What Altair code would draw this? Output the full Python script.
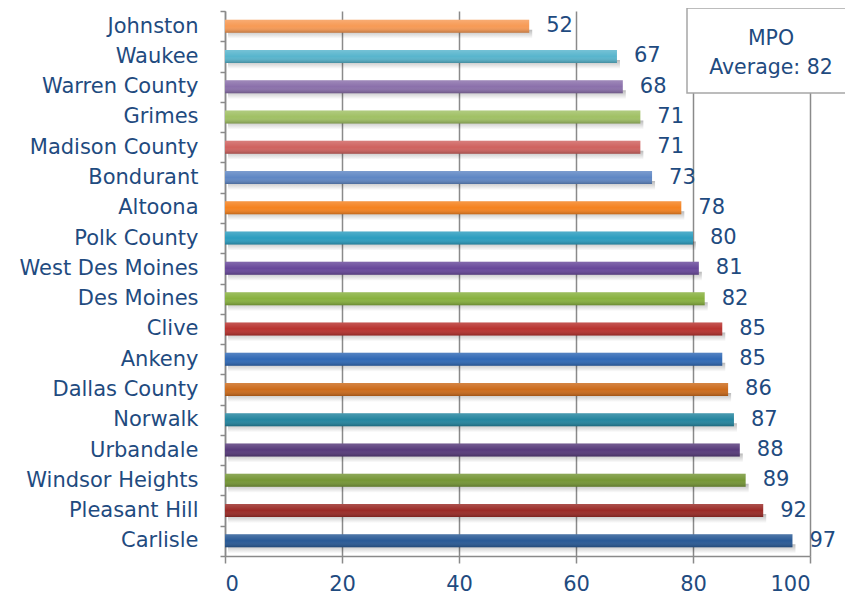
import altair as alt
import pandas as pd

names = ["Johnston", "Waukee", "Warren County", "Grimes", "Madison County", "Bondurant",
         "Altoona", "Polk County", "West Des Moines", "Des Moines", "Clive", "Ankeny",
         "Dallas County", "Norwalk", "Urbandale", "Windsor Heights", "Pleasant Hill", "Carlisle"]
values = [52, 67, 68, 71, 71, 73, 78, 80, 81, 82, 85, 85, 86, 87, 88, 89, 92, 97]
colors = ["#F79A55", "#58B5CD", "#8B70AB", "#A0C064", "#CF625F", "#5F87C4",
          "#F5821F", "#2C9DBF", "#68489A", "#88B13F", "#B8332F", "#3069B5",
          "#CC6B1C", "#24859F", "#573A7A", "#759636", "#9A2A26", "#285995"]
x_ticks = [0, 20, 40, 60, 80, 100]
avg_lines = ["MPO", "Average: 82"]

text_color = "#1F4B7F"
grid_color = "#8A8A8A"
font = "DejaVu Sans"

df = pd.DataFrame({"name": names, "value": values, "color": colors})

y_enc = alt.Y("name:N", sort=names, title=None,
              scale=alt.Scale(paddingInner=0.0, paddingOuter=0.0))
x_enc = alt.X("value:Q", title=None,
              scale=alt.Scale(domain=[0, 100]),
              axis=alt.Axis(values=x_ticks, grid=True))

base = alt.Chart(df)

shadow = base.mark_bar(
    size=9, yOffset=8, xOffset=3,
    color=alt.Gradient(gradient="linear", x1=0, y1=0, x2=0, y2=1,
                       stops=[alt.GradientStop(offset=0, color="rgba(0,0,0,0.28)"),
                              alt.GradientStop(offset=1, color="rgba(0,0,0,0)")])
).encode(y=y_enc, x=x_enc)

bars = base.mark_bar(size=13).encode(
    y=y_enc, x=x_enc,
    color=alt.Color("name:N", scale=alt.Scale(domain=names, range=colors), legend=None)
)

shade = base.mark_bar(
    size=13,
    color=alt.Gradient(gradient="linear", x1=0, y1=0, x2=0, y2=1,
                       stops=[alt.GradientStop(offset=0, color="rgba(255,255,255,0.18)"),
                              alt.GradientStop(offset=0.5, color="rgba(255,255,255,0.0)"),
                              alt.GradientStop(offset=1, color="rgba(0,0,0,0.22)")])
).encode(y=y_enc, x=x_enc)

labels = base.mark_text(align="left", baseline="middle", dx=17, font=font,
                        fontSize=21, color=text_color).encode(
    y=y_enc, x=x_enc, text="value:Q")

box_df = pd.DataFrame({"l1": [avg_lines[0]], "l2": [avg_lines[1]]})
box = alt.Chart(box_df).mark_rect(fill="white", stroke="#A6A6A6", strokeWidth=1.5).encode(
    x=alt.value(462), x2=alt.value(631), y=alt.value(-3), y2=alt.value(82))
box_t1 = alt.Chart(box_df).mark_text(font=font, fontSize=20.5, color=text_color,
                                     align="center", baseline="middle").encode(
    x=alt.value(546), y=alt.value(28), text="l1:N")
box_t2 = alt.Chart(box_df).mark_text(font=font, fontSize=20.5, color=text_color,
                                     align="center", baseline="middle").encode(
    x=alt.value(546), y=alt.value(57), text="l2:N")

chart = alt.layer(shadow, bars, shade, labels, box, box_t1, box_t2).properties(
    width=585, height=545,
    autosize=alt.AutoSizeParams(type="none"),
    padding={"left": 217, "top": 3, "right": 35, "bottom": 38},
).configure_view(stroke=None).configure_axisX(
    domainColor=grid_color, domainWidth=1.5, tickColor=grid_color, tickWidth=1.5,
    tickSize=7, gridColor=grid_color, gridWidth=1.5, labelFont=font, labelFontSize=21,
    labelColor=text_color, labelPadding=10,
).configure_axisY(
    domainColor=grid_color, domainWidth=1.5, tickColor=grid_color, tickWidth=1.5,
    tickSize=5, tickBand="extent", grid=False, labelFont=font, labelFontSize=21,
    labelColor=text_color, labelPadding=22,
)

chart.save("out.html", embed_options={"renderer": "svg", "actions": False})
